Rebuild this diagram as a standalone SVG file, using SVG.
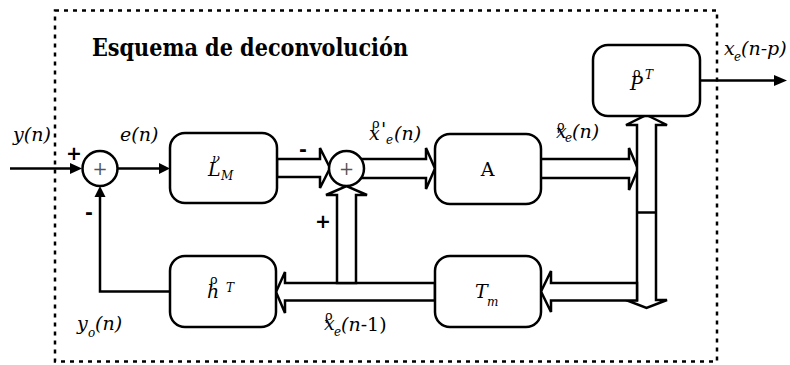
<svg xmlns="http://www.w3.org/2000/svg" width="790" height="365" viewBox="0 0 790 365">
<style>
.box{fill:#fff;stroke:#000;stroke-width:2.5}
.sum{fill:#fff;stroke:#000;stroke-width:2.5}
.ln{fill:none;stroke:#000;stroke-width:2.5}
.hol{fill:#fff;stroke:#000;stroke-width:2.5;stroke-linejoin:miter}
.head{fill:#000}
text{font-family:"DejaVu Serif",serif;fill:#000}
.lab{font-style:italic;font-size:19px}
.sub{font-style:italic;font-size:12px}
.hat{font-size:13px}
.sgn{font-family:"DejaVu Sans",sans-serif;font-weight:bold;font-size:19px}
.plus{font-size:18px;fill:#555;text-anchor:middle}
</style>
<rect x="55" y="10.5" width="662" height="351" fill="none" stroke="#000" stroke-width="2.5" stroke-dasharray="4 5"/>
<text x="92" y="56" font-weight="bold" font-size="24" textLength="316" lengthAdjust="spacingAndGlyphs">Esquema de deconvolución</text>
<g id="connectors">
<line class="ln" x1="10" y1="168.5" x2="72" y2="168.5"/>
<polygon class="head" points="70,163 82,168.5 70,174"/>
<line class="ln" x1="117" y1="168.5" x2="161" y2="168.5"/>
<polygon class="head" points="159,163 170,168.5 159,174"/>
<polyline class="ln" points="170,291.5 100,291.5 100,195"/>
<polygon class="head" points="94.5,197 100,186 105.5,197"/>
<line class="ln" x1="700" y1="80.5" x2="776" y2="80.5"/>
<polygon class="head" points="774,75 787,80.5 774,86"/>
<polygon class="hol" points="277,159 320,159 320,148 330,168 320,188 320,177 277,177"/>
<polygon class="hol" points="355,159 426,159 426,148 435,168.5 426,189 426,178 355,178"/>
<polygon class="hol" points="540,159 629,159 629,148 638,169 629,190 629,178 540,178"/>
<polygon class="hol" points="646.5,115 667,125 656,125 656,300 667,300 646.5,308 626,300 637,300 637,125 626,125"/>
<line class="ln" x1="637" y1="212.5" x2="656" y2="212.5"/>
<polygon class="hol" points="637,283 551,283 551,271 541,291.5 551,312 551,300.5 637,300.5"/>
<polygon class="hol" points="435,283 285,283 285,272 276,292 285,313 285,300.5 435,300.5"/>
<polygon class="hol" points="337,283 337,195 326,195 346.5,186 367,195 356,195 356,283"/>
</g>
<g id="sum1">
<circle class="sum" cx="100" cy="168.5" r="17.5"/>
<text class="plus" x="100" y="174.5">+</text>
</g>
<g id="sum2">
<circle class="sum" cx="346.5" cy="168.5" r="17.5"/>
<text class="plus" x="346.5" y="174.5">+</text>
</g>
<g id="LM">
<rect class="box" x="170" y="133" width="107" height="70" rx="15"/>
<text class="lab" x="208" y="176">L</text>
<text class="hat" x="212" y="163" font-style="italic">ν</text>
<text class="sub" x="221" y="180">M</text>
</g>
<g id="A">
<rect class="box" x="435" y="134" width="106" height="70" rx="15"/>
<text x="487.5" y="176" font-size="19" text-anchor="middle">A</text>
</g>
<g id="P">
<rect class="box" x="593" y="45" width="107" height="71" rx="15"/>
<text class="lab" x="630" y="90">P</text>
<text class="hat" x="633" y="77">ρ</text>
<text class="sub" x="645" y="79" font-size="10">T</text>
</g>
<g id="Tm">
<rect class="box" x="435" y="256" width="106" height="71" rx="15"/>
<text class="lab" x="475" y="298">T</text>
<text class="sub" x="487" y="306">m</text>
</g>
<g id="h">
<rect class="box" x="170" y="256" width="106" height="71" rx="15"/>
<text class="lab" x="207" y="298">h</text>
<text class="hat" x="210" y="284">ρ</text>
<text class="sub" x="226" y="292" font-size="11">T</text>
</g>
<g id="labels">
<text class="lab" x="13" y="141">y(n)</text>
<text class="lab" x="120" y="141">e(n)</text>
<text class="sgn" x="66" y="160">+</text>
<text class="sgn" x="85" y="219">-</text>
<text class="sgn" x="299" y="156">-</text>
<text class="sgn" x="315" y="228">+</text>
<text class="hat" x="372" y="128">ρ</text>
<text class="lab" x="369" y="140">x</text>
<text class="lab" x="381" y="136" font-size="15" font-style="normal">'</text>
<text class="sub" x="386" y="144">e</text>
<text class="lab" x="394" y="140">(n)</text>
<text class="hat" x="557" y="130" font-size="12">ρ</text>
<text class="lab" x="556" y="138" font-size="16">x</text>
<text class="sub" x="565" y="142" font-size="11">e</text>
<text class="lab" x="572" y="138" font-size="16">(n)</text>
<text class="lab" x="724" y="55">x</text>
<text class="sub" x="734" y="61">e</text>
<text class="lab" x="741" y="55" font-size="18">(n-p)</text>
<text class="lab" x="77" y="330">y</text>
<text class="sub" x="88" y="337">o</text>
<text class="lab" x="95" y="330">(n)</text>
<text class="hat" x="325" y="320" font-size="12">ρ</text>
<text class="lab" x="324" y="330" font-size="16">x</text>
<text class="sub" x="334" y="336" font-size="11">e</text>
<text class="lab" x="341" y="331" font-size="16">(n<tspan font-style="normal">-1)</tspan></text>
</g>
</svg>
